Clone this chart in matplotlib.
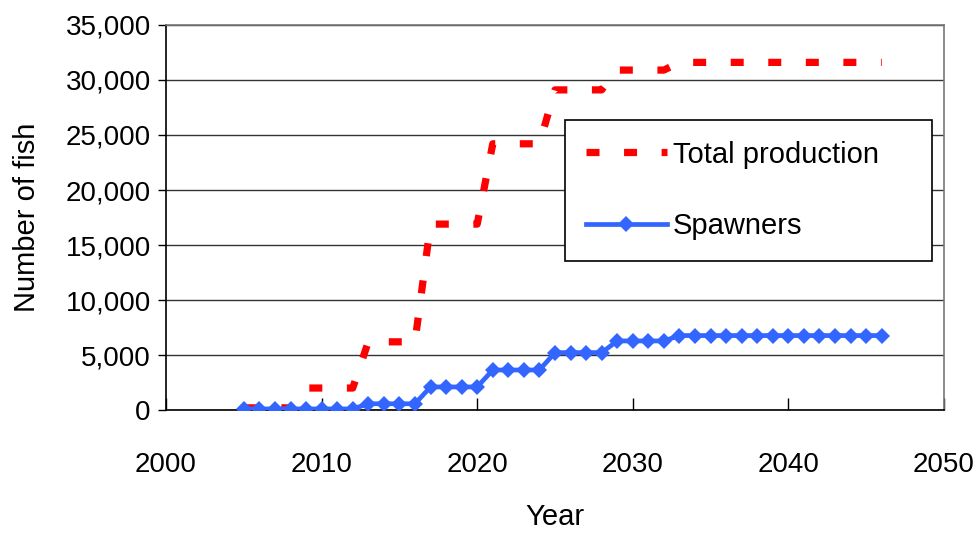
import matplotlib
matplotlib.use("Agg")
import matplotlib.pyplot as plt
from matplotlib.ticker import FuncFormatter

years = [2005, 2006, 2007, 2008, 2009, 2010, 2011, 2012, 2013, 2014,
         2015, 2016, 2017, 2018, 2019, 2020, 2021, 2022, 2023, 2024,
         2025, 2026, 2027, 2028, 2029, 2030, 2031, 2032, 2033, 2034,
         2035, 2036, 2037, 2038, 2039, 2040, 2041, 2042, 2043, 2044,
         2045, 2046]
total_production = [200, 200, 200, 200, 2000, 2000, 2000, 2000, 6200, 6200,
                    6200, 6200, 16900, 16900, 16900, 16900, 24200, 24200, 24200, 24200,
                    29100, 29100, 29100, 29100, 30900, 30900, 30900, 30900, 31600, 31600,
                    31600, 31600, 31600, 31600, 31600, 31600, 31600, 31600, 31600, 31600,
                    31600, 31600]
spawners = [100, 100, 100, 100, 100, 100, 100, 100, 570, 570,
            570, 570, 2100, 2100, 2100, 2100, 3640, 3640, 3640, 3640,
            5220, 5220, 5220, 5220, 6280, 6280, 6280, 6280, 6770, 6770,
            6770, 6770, 6770, 6770, 6770, 6770, 6770, 6770, 6770, 6770,
            6770, 6770]
x_ticks = [2000, 2010, 2020, 2030, 2040, 2050]
y_ticks = [0, 5000, 10000, 15000, 20000, 25000, 30000, 35000]

plt.rcParams['font.family'] = ['Liberation Sans', 'DejaVu Sans']

fig = plt.figure(figsize=(9.79, 5.36), dpi=100)
ax = fig.add_axes([0.1696, 0.235, 0.7946, 0.7184])

ax.plot(years, total_production, color='#FF0000', lw=5.2,
        linestyle=(0, (1.8, 3.4)), dash_capstyle='butt',
        label='Total production', zorder=3)
ax.plot(years, spawners, color='#3366FF', lw=3.4, marker='D', markersize=8.5,
        markeredgewidth=0, label='Spawners', zorder=4)

ax.set_xlim(2000, 2050)
ax.set_ylim(0, 35000)
ax.set_xticks(x_ticks)
ax.set_yticks(y_ticks)
ax.yaxis.set_major_formatter(FuncFormatter(lambda v, p: f"{int(v):,}"))

ax.grid(axis='y', color='#333333', lw=1)
ax.set_axisbelow(True)

for s in ['left', 'bottom']:
    ax.spines[s].set_color('black')
    ax.spines[s].set_linewidth(1.2)
for s in ['top', 'right']:
    ax.spines[s].set_color('#777777')
    ax.spines[s].set_linewidth(1.2)

ax.tick_params(axis='x', direction='in', length=9, width=1, pad=30, labelsize=20)
ax.tick_params(axis='y', direction='out', length=6, width=1, pad=5, labelsize=20)

ax.set_xlabel('Year', fontsize=21, labelpad=18)
ax.set_ylabel('Number of fish', fontsize=21, labelpad=18)

leg = ax.legend(loc='upper left', bbox_to_anchor=(0.513, 0.392, 0.472, 0.361),
                mode='expand', fontsize=21, frameon=True, fancybox=False,
                framealpha=1, edgecolor='black', borderpad=0.7,
                labelspacing=1.5, handlelength=2.8, handletextpad=0.2,
                borderaxespad=0)
leg.get_frame().set_linewidth(1.2)

fig.savefig('out.png', dpi=100)
